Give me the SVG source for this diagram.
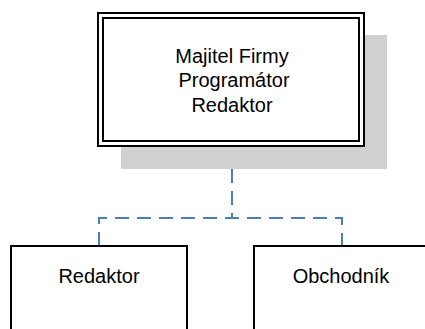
<svg xmlns="http://www.w3.org/2000/svg" width="425" height="329" viewBox="0 0 425 329">
<style>
.t{font-family:"Liberation Sans",Arial,sans-serif;font-size:20px;fill:#000;text-anchor:middle}
.b{fill:#fff;stroke:#000;stroke-width:2}
.c{fill:none;stroke:#4a7ebb;stroke-width:2;stroke-dasharray:14 8}
</style>
<rect width="425" height="329" fill="#fff"/>
<g id="connectors">
<path class="c" d="M232,147 V218"/>
<path class="c" d="M99,246 V218 H342 V246"/>
</g>
<g id="node-top">
<rect x="121" y="35" width="266" height="134" fill="#d0d0d0"/>
<rect class="b" x="98" y="13" width="266" height="133"/>
<rect class="b" x="103" y="18" width="256" height="123"/>
<text class="t" x="232" y="62.5">Majitel Firmy</text>
<text class="t" x="234" y="87">Programátor</text>
<text class="t" x="232" y="111.5">Redaktor</text>
</g>
<g id="node-redaktor">
<rect class="b" x="11" y="246" width="176" height="100"/>
<text class="t" x="99" y="283">Redaktor</text>
</g>
<g id="node-obchodnik">
<rect class="b" x="254" y="246" width="200" height="100"/>
<text class="t" x="341" y="283">Obchodník</text>
</g>
</svg>
